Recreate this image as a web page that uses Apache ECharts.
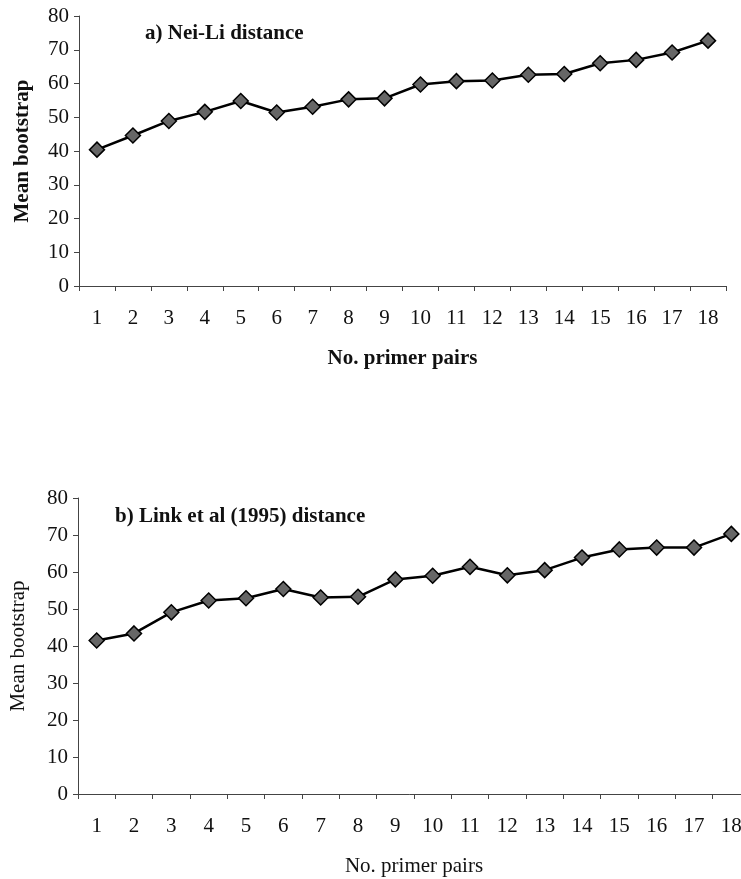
<!DOCTYPE html>
<html>
<head>
<meta charset="utf-8">
<script src="https://cdn.jsdelivr.net/npm/echarts@6/dist/echarts.min.js"></script>
<style>
  html, body { margin: 0; padding: 0; background: #fff; }
  #chart { width: 741px; height: 879px; }
</style>
</head>
<body>
<div id="chart"></div>
<script>
// Number of primer pairs used (x categories)
var primerPairs = ['1','2','3','4','5','6','7','8','9','10','11','12','13','14','15','16','17','18'];

// Mean bootstrap support, Nei-Li distance
var neiLi = [40.4, 44.6, 48.9, 51.6, 54.8, 51.4, 53.1, 55.3, 55.6, 59.7, 60.7, 60.9, 62.6, 62.8, 66.0, 67.0, 69.2, 72.7];

// Mean bootstrap support, Link et al (1995) distance
var linkEtAl = [41.5, 43.4, 49.1, 52.3, 52.9, 55.4, 53.1, 53.3, 58.0, 59.0, 61.4, 59.1, 60.5, 63.9, 66.1, 66.6, 66.6, 70.3];

// Y axis range
var yMin = 0, yMax = 80, yStep = 10;

var FONT = '"Liberation Serif", "Times New Roman", serif';
var AXIS_COLOR = '#444';

function xAxisFor(gridIndex, bold) {
  return {
    type: 'category',
    gridIndex: gridIndex,
    data: primerPairs,
    boundaryGap: true,
    name: 'No. primer pairs',
    nameLocation: 'middle',
    nameGap: 62,
    nameTextStyle: { fontFamily: FONT, fontSize: 21, fontWeight: bold ? 'bold' : 'normal', color: '#111' },
    axisLine: { show: true, lineStyle: { color: AXIS_COLOR, width: 1 } },
    axisTick: { show: true, inside: false, length: 5, lineStyle: { color: AXIS_COLOR, width: 1 } },
    axisLabel: { margin: 22, fontFamily: FONT, fontSize: 21, color: '#111', interval: 0 },
    splitLine: { show: false }
  };
}

function yAxisFor(gridIndex, bold, gap) {
  return {
    type: 'value',
    gridIndex: gridIndex,
    min: yMin,
    max: yMax,
    interval: yStep,
    name: 'Mean bootstrap',
    nameLocation: 'middle',
    nameGap: gap,
    nameTextStyle: { fontFamily: FONT, fontSize: 21, fontWeight: bold ? 'bold' : 'normal', color: '#111' },
    axisLine: { show: true, lineStyle: { color: AXIS_COLOR, width: 1 } },
    axisTick: { show: true, inside: false, length: 5, lineStyle: { color: AXIS_COLOR, width: 1 } },
    axisLabel: { margin: 10, fontFamily: FONT, fontSize: 21, color: '#111' },
    splitLine: { show: false }
  };
}

function lineSeries(idx, data) {
  return {
    type: 'line',
    xAxisIndex: idx,
    yAxisIndex: idx,
    data: data,
    symbol: 'diamond',
    symbolSize: 15,
    showAllSymbol: true,
    lineStyle: { color: '#000', width: 2.5 },
    itemStyle: { color: '#666', borderColor: '#000', borderWidth: 1.5 },
    animation: false,
    z: 3
  };
}

var chart = echarts.init(document.getElementById('chart'), null, { renderer: 'canvas' });

chart.setOption({
  backgroundColor: '#fff',
  animation: false,
  title: [
    {
      text: 'a) Nei-Li distance',
      left: 140, top: 18,
      textStyle: { fontFamily: FONT, fontSize: 21, fontWeight: 'bold', color: '#111' }
    },
    {
      text: 'b) Link et al (1995) distance',
      left: 110, top: 501,
      textStyle: { fontFamily: FONT, fontSize: 21, fontWeight: 'bold', color: '#111' }
    }
  ],
  grid: [
    { left: 79, top: 16, width: 647, height: 270, containLabel: false, outerBoundsMode: 'none' },
    { left: 78, top: 498, width: 672, height: 296, containLabel: false, outerBoundsMode: 'none' }
  ],
  xAxis: [xAxisFor(0, true), xAxisFor(1, false)],
  yAxis: [yAxisFor(0, true, 46), yAxisFor(1, false, 49)],
  series: [lineSeries(0, neiLi), lineSeries(1, linkEtAl)]
});
</script>
</body>
</html>
